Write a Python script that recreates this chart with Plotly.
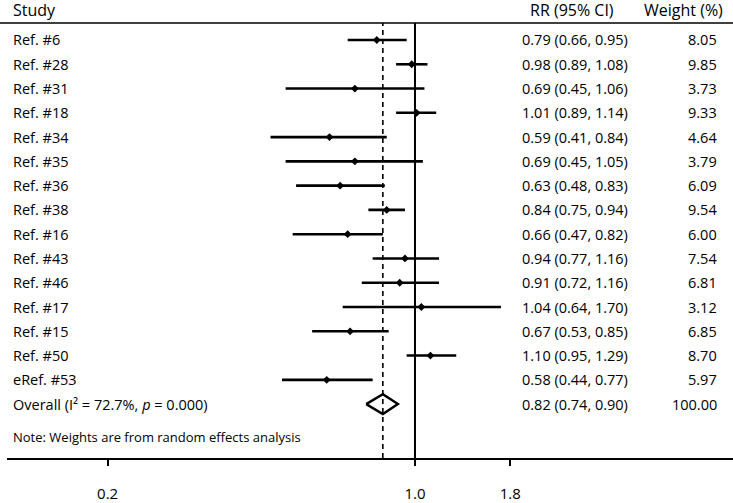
import math
import plotly.graph_objects as go

studies = ["Ref. #6", "Ref. #28", "Ref. #31", "Ref. #18", "Ref. #34", "Ref. #35", "Ref. #36",
           "Ref. #38", "Ref. #16", "Ref. #43", "Ref. #46", "Ref. #17", "Ref. #15", "Ref. #50", "eRef. #53"]
rr = [0.79, 0.98, 0.69, 1.01, 0.59, 0.69, 0.63, 0.84, 0.66, 0.94, 0.91, 1.04, 0.67, 1.10, 0.58]
lo = [0.66, 0.89, 0.45, 0.89, 0.41, 0.45, 0.48, 0.75, 0.47, 0.77, 0.72, 0.64, 0.53, 0.95, 0.44]
hi = [0.95, 1.08, 1.06, 1.14, 0.84, 1.05, 0.83, 0.94, 0.82, 1.16, 1.16, 1.70, 0.85, 1.29, 0.77]
weights = ["8.05", "9.85", "3.73", "9.33", "4.64", "3.79", "6.09", "9.54", "6.00", "7.54",
           "6.81", "3.12", "6.85", "8.70", "5.97"]

overall_label = "Overall (I² = 72.7%, <i>p</i> = 0.000)"
overall_rr, overall_lo, overall_hi = 0.82, 0.74, 0.90
overall_weight = "100.00"
note = "Note: Weights are from random effects analysis"

tick_vals = [0.15, 1.0, 1.8]
tick_text = ["0.2", "1.0", "1.8"]

W, H = 733, 503
ML, MR, MT, MB = 7, 0, 23, 45
PW = W - ML - MR

def px(xpix):
    return (xpix - ML) / PW

FONT = "Open Sans"
n = len(studies)
rows = list(range(n))
overall_row = n
note_row = n + 1.36

fig = go.Figure()

# CI lines
lx, ly = [], []
for i in rows:
    lx += [lo[i], hi[i], None]
    ly += [i, i, None]
fig.add_trace(go.Scatter(x=lx, y=ly, mode="lines", line=dict(color="black", width=2.6),
                         hoverinfo="skip", showlegend=False))
# point estimates
fig.add_trace(go.Scatter(x=rr, y=rows, mode="markers",
                         marker=dict(symbol="diamond", size=6, color="black"),
                         showlegend=False))
# overall diamond
dh = 0.41
fig.add_trace(go.Scatter(
    x=[overall_lo, overall_rr, overall_hi, overall_rr, overall_lo],
    y=[overall_row, overall_row - dh, overall_row, overall_row + dh, overall_row],
    mode="lines", line=dict(color="black", width=2.4), fill="toself", fillcolor="white",
    showlegend=False, hoverinfo="skip"))

# reference lines
fig.add_shape(type="line", xref="x", yref="paper", x0=1.0, x1=1.0, y0=0, y1=1,
              line=dict(color="black", width=2))
fig.add_shape(type="line", xref="x", yref="paper", x0=overall_rr, x1=overall_rr, y0=0, y1=1,
              line=dict(color="black", width=1.6, dash="5px,4px"))
# header line
fig.add_shape(type="line", xref="paper", yref="paper", x0=px(0), x1=1, y0=1, y1=1,
              line=dict(color="black", width=1.6))

fs = 14.5
ann = []
def text(x, y, s, anchor="left", size=fs, yref="y", yanchor="middle"):
    ann.append(dict(x=x, y=y, xref="paper", yref=yref, text=s, showarrow=False,
                    xanchor=anchor, yanchor=yanchor, font=dict(family=FONT, size=size, color="black")))

for i in rows:
    text(px(11), i, studies[i])
    text(px(520), i, f"{rr[i]:.2f} ({lo[i]:.2f}, {hi[i]:.2f})")
    text(px(719), i, weights[i], anchor="right")
text(px(11), overall_row, overall_label)
text(px(520), overall_row, f"{overall_rr:.2f} ({overall_lo:.2f}, {overall_hi:.2f})")
text(px(719), overall_row, overall_weight, anchor="right")
text(px(11), note_row, note, size=13)

# headers
text(px(11), 1, "Study", yref="paper", yanchor="bottom", size=16)
text(px(528), 1, "RR (95% CI)", yref="paper", yanchor="bottom", size=16)
text(px(725), 1, "Weight (%)", anchor="right", yref="paper", yanchor="bottom", size=16)

fig.update_layout(
    width=W, height=H, margin=dict(l=ML, r=MR, t=MT, b=MB),
    paper_bgcolor="white", plot_bgcolor="white",
    annotations=ann, showlegend=False,
    xaxis=dict(type="log", range=[math.log10(0.0806), math.log10(7.12)],
               tickvals=tick_vals, ticktext=tick_text, ticks="outside", ticklen=6,
               tickwidth=1.5, tickcolor="black", showline=True, linecolor="black", linewidth=1.6,
               showgrid=False, zeroline=False, ticklabelstandoff=15,
               tickfont=dict(family=FONT, size=15, color="black")),
    yaxis=dict(range=[n + 2.22, -0.7], visible=False, showgrid=False, zeroline=False),
)
fig.write_html("out.html", config={"displayModeBar": False},
               post_script="document.body.style.margin='0px';")
